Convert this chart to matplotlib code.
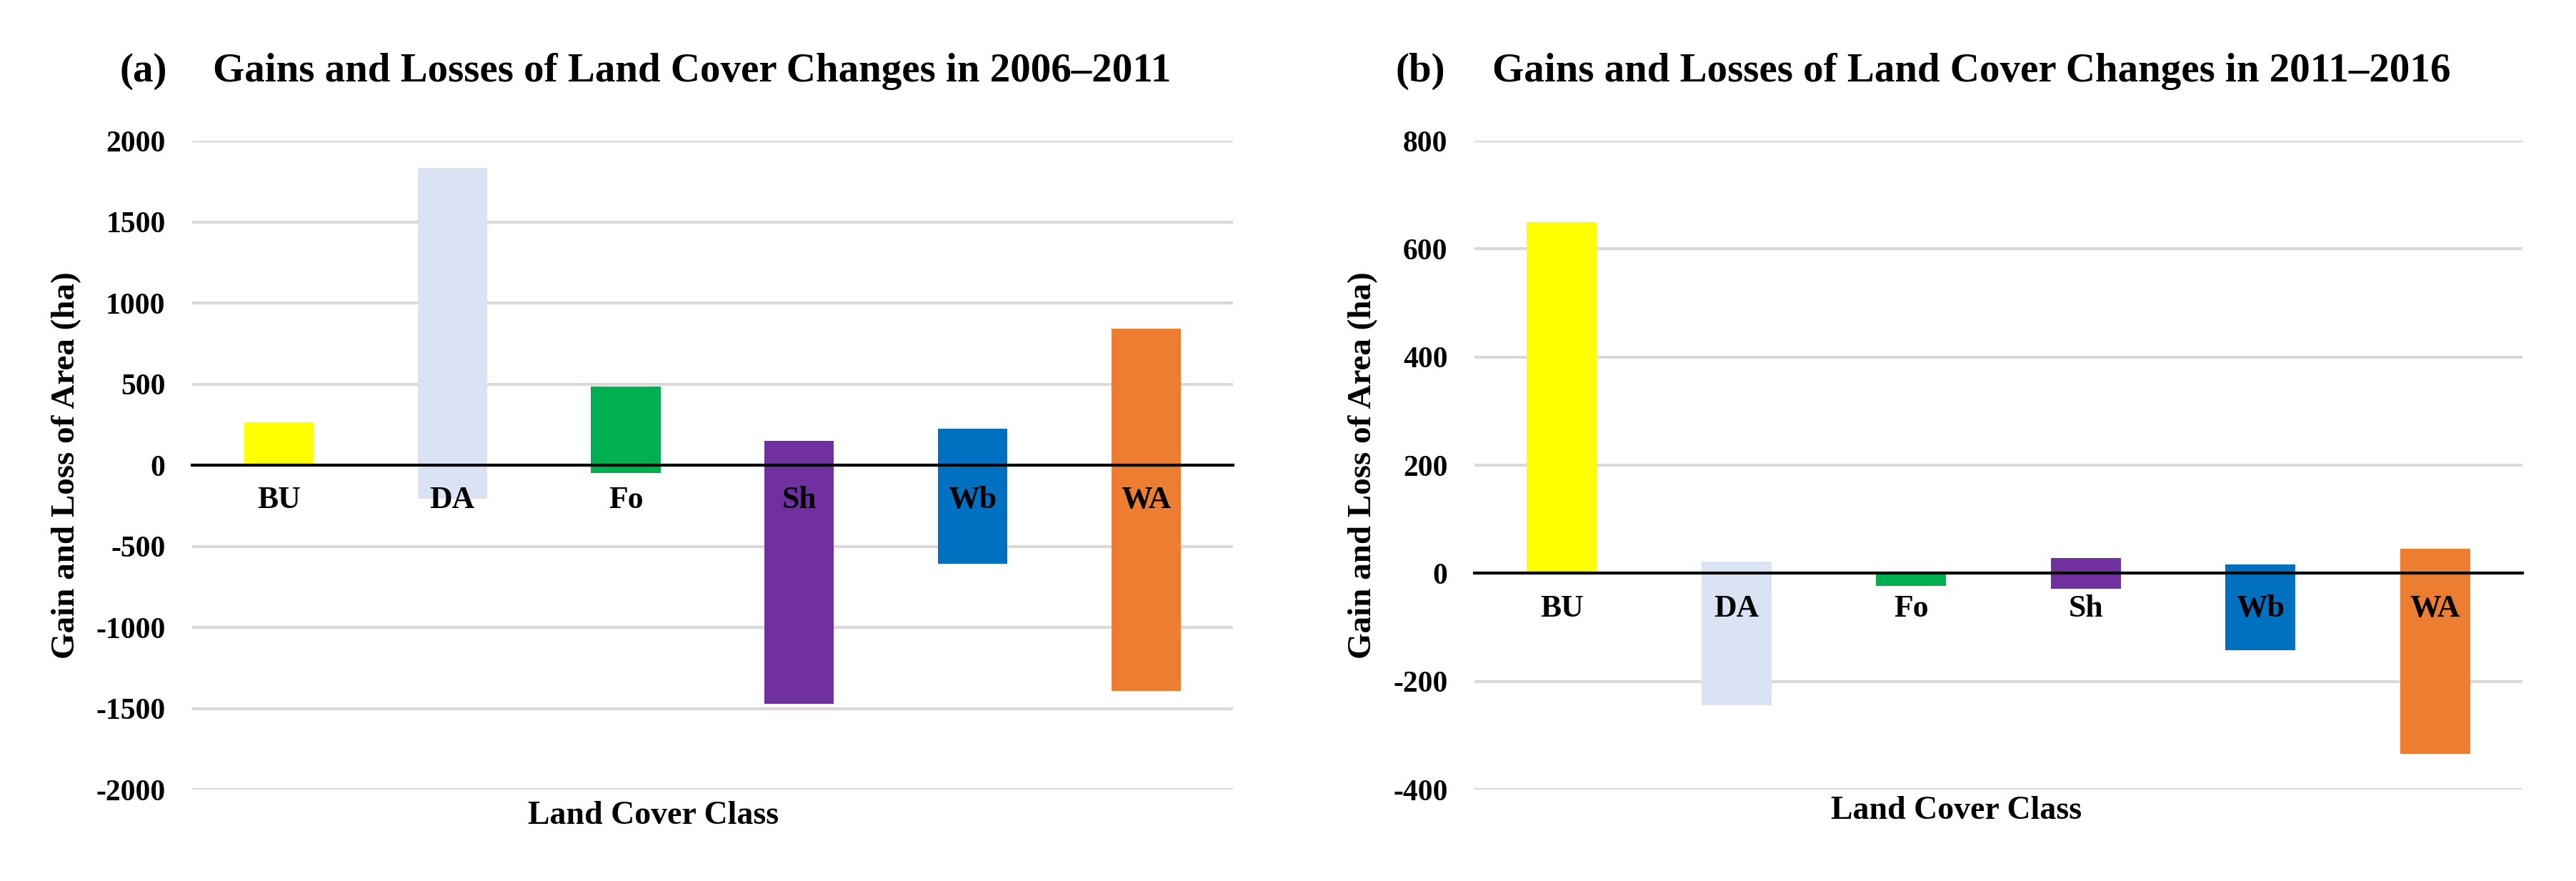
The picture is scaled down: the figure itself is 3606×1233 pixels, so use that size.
import matplotlib
matplotlib.use("Agg")
import matplotlib.pyplot as plt
import numpy as np

plt.rcParams['font.family'] = ['Liberation Serif', 'DejaVu Serif']
plt.rcParams['font.weight'] = 'bold'

categories = ["BU", "DA", "Fo", "Sh", "Wb", "WA"]
colors = ["#FFFF00", "#DAE3F3", "#00B050", "#7030A0", "#0070C0", "#ED7D31"]

gains_a = [265, 1833, 485, 150, 225, 843]
losses_a = [0, -207, -48, -1470, -607, -1390]
gains_b = [650, 21, 0, 28, 16, 45]
losses_b = [0, -244, -23, -28, -142, -334]

yticks_a = [-2000, -1500, -1000, -500, 0, 500, 1000, 1500, 2000]
yticks_b = [-400, -200, 0, 200, 400, 600, 800]

fig = plt.figure(figsize=(3606 / 300, 1233 / 300), dpi=300)

panels = [
    dict(rect=[0.0746, 0.1038, 0.4040, 0.7364], gains=gains_a, losses=losses_a,
         yticks=yticks_a, tag="(a)", title="Gains and Losses of Land Cover Changes in 2006\u20132011",
         tag_x=167 / 3606, title_x=298 / 3606, ylab_x=93 / 3606, xlab=0.443, xlab_y=-0.041),
    dict(rect=[0.5724, 0.1038, 0.4068, 0.7364], gains=gains_b, losses=losses_b,
         yticks=yticks_b, tag="(b)", title="Gains and Losses of Land Cover Changes in 2011\u20132016",
         tag_x=1954 / 3606, title_x=2089 / 3606, ylab_x=1908 / 3606, xlab=0.46, xlab_y=-0.033),
]

for p in panels:
    ax = fig.add_axes(p["rect"])
    x = np.arange(len(categories))
    ax.bar(x, p["gains"], width=0.4, color=colors, zorder=3)
    ax.bar(x, p["losses"], width=0.4, color=colors, zorder=3)
    ax.set_xlim(-0.5, len(categories) - 0.5)
    ax.set_ylim(p["yticks"][0], p["yticks"][-1])
    ax.set_yticks(p["yticks"])
    ax.set_yticklabels([str(v) for v in p["yticks"]], fontsize=10, fontweight='bold')
    ax.grid(axis='y', color='#D9D9D9', linewidth=1.0, zorder=0)
    ax.set_axisbelow(True)
    for s in ['top', 'right', 'left']:
        ax.spines[s].set_visible(False)
    ax.spines['bottom'].set_position(('data', 0))
    ax.spines['bottom'].set_linewidth(1.0)
    ax.spines['bottom'].set_color('black')
    ax.spines['bottom'].set_zorder(4)
    ax.set_xticks(x)
    ax.set_xticklabels(categories, fontsize=10.5, fontweight='bold')
    ax.tick_params(axis='x', length=0, pad=7)
    ax.tick_params(axis='y', length=0, pad=9)
    ax.xaxis.set_zorder(5)
    ax.set_xlabel("Land Cover Class", fontsize=11, fontweight='bold')
    ax.xaxis.set_label_coords(p["xlab"], p["xlab_y"])
    ax.xaxis.label.set_va('center')
    fig.text(p["ylab_x"], 0.4721, "Gain and Loss of Area (ha)", rotation=90,
             ha='center', va='center', fontsize=11.3, fontweight='bold')
    fig.text(p["tag_x"], 1 - 100 / 1233, p["tag"], ha='left', va='center',
             fontsize=13.7, fontweight='bold')
    fig.text(p["title_x"], 1 - 100 / 1233, p["title"], ha='left', va='center',
             fontsize=13.7, fontweight='bold')

fig.savefig("out.png", dpi=300, facecolor='white')
